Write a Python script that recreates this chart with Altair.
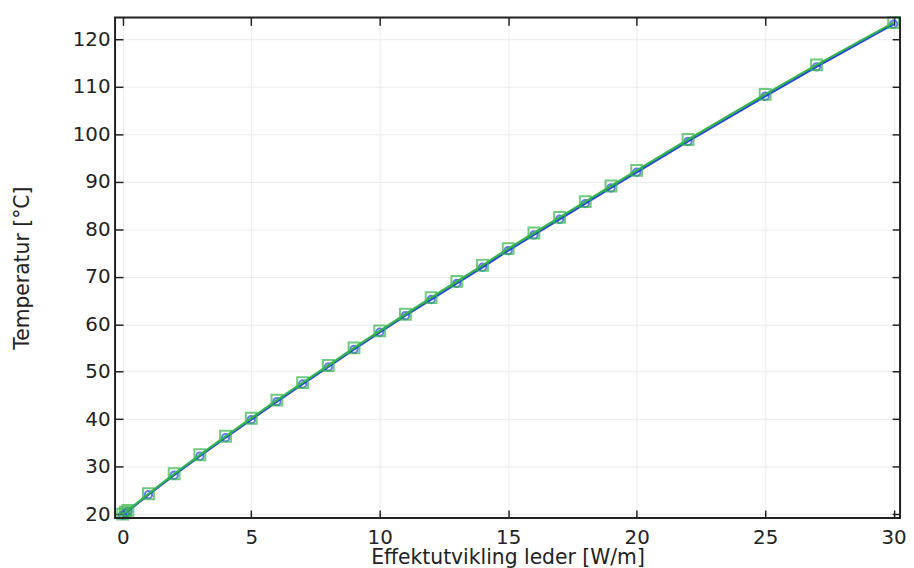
import altair as alt
import pandas as pd

power = [0, 0.1, 0.2, 1, 2, 3, 4, 5, 6, 7, 8, 9, 10, 11, 12, 13, 14, 15, 16, 17,
         18, 19, 20, 22, 25, 27, 30]
temp_green = [20.0, 20.4, 20.8, 24.3, 28.5, 32.5, 36.4, 40.2, 44.0, 47.7, 51.3, 55.0,
              58.6, 62.1, 65.6, 69.0, 72.4, 75.9, 79.2, 82.5, 85.8, 89.1, 92.4,
              98.9, 108.4, 114.6, 123.5]
temp_blue = [19.8, 20.2, 20.6, 24.1, 28.2, 32.2, 36.1, 39.9, 43.7, 47.4, 51.0, 54.7,
             58.3, 61.8, 65.2, 68.6, 72.0, 75.5, 78.8, 82.1, 85.4, 88.7, 92.0,
             98.5, 108.0, 114.2, 123.2]

x_ticks = [0, 5, 10, 15, 20, 25, 30]
y_ticks = [20, 30, 40, 50, 60, 70, 80, 90, 100, 110, 120]

W, H = 792, 505

blue_df = pd.DataFrame({"x": power, "y": temp_blue})
green_df = pd.DataFrame({"x": power, "y": temp_green})

FONT = "DejaVu Sans"
BLUE = "#2443e6"
GREEN = "#34b54a"
INK = "#222222"

xs = alt.Scale(domain=[-0.3, 30.25], nice=False, zero=False)
ys = alt.Scale(domain=[19.2, 124.6], nice=False, zero=False)

common_axis = dict(domain=False, tickSize=8, offset=-8, tickColor=INK,
                   tickWidth=1.5, labelFont=FONT, labelFontSize=20,
                   labelColor=INK, titleFont=FONT, titleFontSize=20.5,
                   titleFontWeight="normal", titleColor=INK)

x_bottom = alt.Axis(values=x_ticks, orient="bottom", labelPadding=10, grid=True,
                    gridColor="#ebebeb", titlePadding=0,
                    title="Effektutvikling leder [W/m]", **common_axis)
y_left = alt.Axis(values=y_ticks, orient="left", labelPadding=5, grid=True,
                  gridColor="#ebebeb", titlePadding=40,
                  title="Temperatur [°C]", **common_axis)
x_top = alt.Axis(values=x_ticks, orient="top", labels=False, grid=False, title=None,
                 **common_axis)
y_right = alt.Axis(values=y_ticks, orient="right", labels=False, grid=False, title=None,
                   **common_axis)

blue_line = alt.Chart(blue_df).mark_line(color=BLUE, strokeWidth=2.2).encode(
    x=alt.X("x:Q", scale=xs, axis=x_bottom),
    y=alt.Y("y:Q", scale=ys, axis=y_left),
)
blue_pts = alt.Chart(blue_df).mark_point(shape="circle", filled=False, color=BLUE,
                                         size=55, strokeWidth=2).encode(
    x=alt.X("x:Q", scale=xs, axis=x_top),
    y=alt.Y("y:Q", scale=ys, axis=y_right),
)
green_line = alt.Chart(green_df).mark_line(color=GREEN, strokeWidth=2.2).encode(
    x=alt.X("x:Q", scale=xs, axis=None),
    y=alt.Y("y:Q", scale=ys, axis=None),
)
green_pts = alt.Chart(green_df).mark_point(shape="square", filled=False, color=GREEN,
                                           size=120, strokeWidth=2).encode(
    x=alt.X("x:Q", scale=xs, axis=None),
    y=alt.Y("y:Q", scale=ys, axis=None),
)
frame = alt.Chart(pd.DataFrame({"f": [0]})).mark_rect(
    fill=None, filled=False, stroke=INK, strokeWidth=2
).encode(x=alt.value(0), x2=alt.value(W), y=alt.value(0), y2=alt.value(H))

chart = alt.layer(blue_line, blue_pts, green_line, green_pts, frame).resolve_axis(
    x="independent", y="independent"
).properties(
    width=W, height=H,
    autosize=alt.AutoSizeParams(type="none"),
    padding={"left": 108, "top": 7, "right": 6, "bottom": 48},
).configure_view(stroke=INK, strokeWidth=2).configure(background="white")

chart.save("out.html", embed_options={"renderer": "svg", "actions": False})
